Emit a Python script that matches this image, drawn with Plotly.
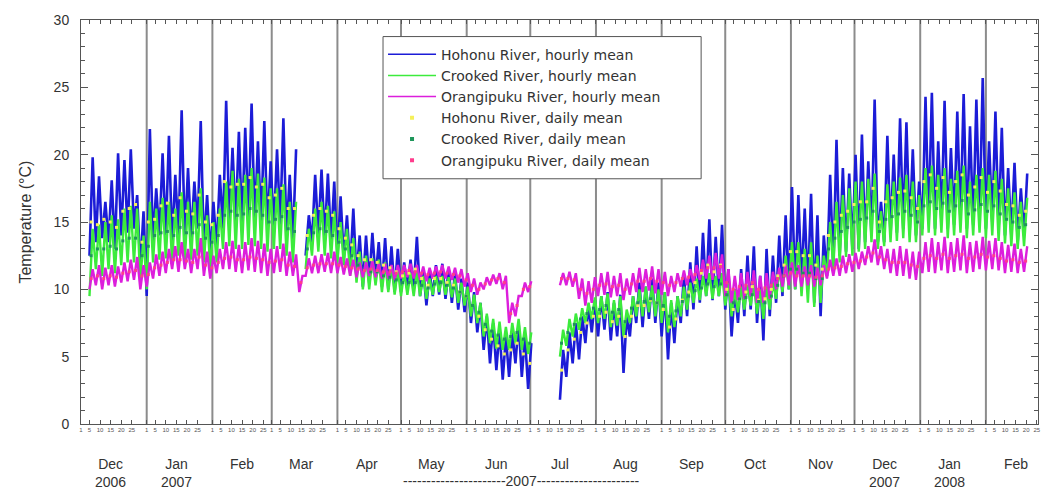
import pandas as pd
import plotly.graph_objects as go

# Sample dates (every 3 days from 5 Dec 2006); each sample holds the low and
# high of the hourly record over that interval plus the daily mean.
sample_start = "2006-12-05"
n_samples = 148

hohonu_low = [
    12.5, 13.5, 13.8, 13.5, 13.0, 14.0, 14.2, 14.5, 11.5, 9.5,
    13.5, 14.0, 14.0, 13.5, 14.0, 13.8, 13.8, 14.5, 13.0, 12.5,
    13.0, 14.5, 15.0, 15.0, 14.8, 15.2, 15.0, 14.8, 14.5, 14.5,
    14.8, 14.0, 13.5, None, 12.5, 13.5, 14.0, 13.8, 13.5, 12.5,
    12.3, 11.5, 11.0, 10.2, 10.5, 10.8, 10.2, 10.0, 9.8, 9.8,
    10.0, 10.0, 9.5, 8.8, 9.5, 9.6, 9.3, 9.0, 8.5, 8.3,
    7.5, 6.8, 5.5, 4.5, 4.0, 3.3, 3.5, 4.5, 3.5, 2.6,
    None, None, None, None, 1.8, 3.5, 4.5, 4.8, 6.0, 6.8,
    6.5, 7.0, 6.2, 6.5, 3.8, 6.5, 7.5, 7.2, 7.8, 7.5,
    6.5, 4.8, 6.0, 7.5, 8.0, 8.5, 9.0, 9.5, 9.2, 9.5,
    8.5, 6.5, 7.5, 8.0, 8.5, 7.5, 6.2, 8.0, 9.0, 9.5,
    10.0, 10.0, 10.5, 10.0, 9.0, 8.0, 11.0, 11.5, 12.5, 12.8,
    13.0, 13.0, 13.5, 14.0, 13.5, 13.5, 14.0, 14.2, 14.5, 14.2,
    14.0, 14.5, 15.0, 14.5, 15.0, 14.5, 14.8, 15.0, 14.5, 14.8,
    15.0, 14.5, 15.0, 14.5, 14.0, 14.0, 13.5, 14.0,
]
hohonu_high = [
    19.8, 18.4, 16.5, 18.1, 20.1, 19.6, 20.4, 17.0, 15.8, 21.9,
    17.5, 20.1, 21.4, 18.5, 23.3, 19.0, 18.0, 22.5, 17.0, 16.5,
    18.5, 24.0, 20.5, 21.7, 22.0, 23.8, 21.0, 22.5, 19.5, 20.4,
    22.7, 18.5, 20.4, None, 15.5, 18.5, 18.9, 18.6, 18.0, 16.9,
    15.5, 16.0, 14.0, 14.0, 14.2, 13.5, 13.8, 13.2, 13.0, 12.0,
    12.2, 13.9, 11.5, 11.3, 11.8, 11.9, 11.5, 11.2, 10.8, 10.5,
    9.8, 9.0, 8.0, 7.5, 7.0, 6.5, 6.8, 7.5, 6.5, 6.0,
    None, None, None, None, 5.5, 6.8, 7.5, 8.0, 8.8, 9.2,
    9.5, 9.8, 9.0, 9.6, 8.0, 9.5, 10.5, 10.2, 10.8, 10.5,
    9.8, 9.0, 9.5, 11.0, 12.0, 13.2, 14.2, 15.2, 13.9, 14.8,
    11.5, 10.0, 11.5, 12.5, 13.2, 11.0, 13.0, 12.5, 14.0, 15.5,
    17.6, 17.0, 16.0, 17.1, 15.5, 14.0, 18.5, 21.1, 19.0, 18.6,
    20.0, 21.5, 19.5, 24.1, 16.5, 21.4, 20.0, 22.7, 22.4, 20.4,
    18.0, 24.3, 24.6, 21.0, 24.0, 20.5, 23.2, 24.5, 22.1, 24.1,
    25.7, 21.0, 23.2, 22.0, 19.0, 19.4, 17.5, 18.6,
]
hohonu_daily = [
    15.0, 14.8, 15.2, 15.0, 14.6, 15.8, 16.0, 16.3, 13.5, 15.0,
    15.2, 16.2, 16.4, 15.5, 16.8, 15.8, 15.6, 17.0, 15.0, 14.8,
    15.5, 18.0, 17.6, 17.8, 17.8, 18.3, 17.6, 17.8, 16.8, 17.0,
    17.5, 16.0, 16.0, None, 14.0, 15.5, 16.0, 15.8, 15.5, 14.5,
    13.8, 13.3, 12.5, 12.2, 12.2, 12.0, 11.8, 11.6, 11.3, 11.0,
    11.2, 11.5, 10.8, 10.3, 10.8, 10.8, 10.5, 10.3, 9.8, 9.5,
    8.8, 8.0, 7.0, 6.3, 5.8, 5.2, 5.5, 6.0, 5.2, 4.5,
    None, None, None, None, 4.0, 5.5, 6.3, 6.8, 7.5, 8.0,
    8.0, 8.3, 7.6, 8.0, 6.5, 8.0, 8.8, 8.8, 9.2, 9.0,
    8.5, 7.2, 7.8, 9.2, 9.8, 10.5, 11.2, 11.8, 11.3, 11.8,
    10.0, 8.5, 9.3, 9.8, 10.2, 9.2, 9.3, 10.0, 11.0, 11.8,
    12.8, 12.8, 12.5, 12.5, 11.8, 11.5, 14.0, 15.0, 15.5, 15.8,
    16.3, 16.5, 16.5, 17.5, 15.0, 16.5, 16.8, 17.2, 17.3, 16.8,
    16.0, 18.0, 18.5, 17.5, 18.3, 17.2, 18.0, 18.5, 17.0, 17.6,
    18.3, 17.2, 18.0, 17.3, 16.3, 16.2, 15.5, 15.8,
]

crooked_low = [
    9.5, 11.5, 11.0, 11.5, 11.2, 11.8, 12.0, 12.0, 10.5, 10.0,
    12.0, 12.2, 12.3, 12.0, 12.5, 12.2, 12.2, 12.5, 12.0, 11.5,
    12.0, 13.0, 13.2, 13.0, 13.0, 13.3, 13.2, 13.0, 12.8, 13.0,
    13.0, 12.5, 12.0, None, 11.5, 12.5, 12.8, 12.5, 12.3, 12.0,
    11.8, 11.0, 10.5, 10.0, 10.0, 10.3, 9.8, 9.8, 9.6, 9.5,
    9.6, 9.5, 9.5, 9.3, 9.6, 9.8, 9.6, 9.4, 9.0, 8.8,
    8.0, 7.5, 6.5, 6.0, 5.6, 5.5, 5.5, 6.0, 5.5, 5.2,
    None, None, None, None, 5.0, 5.8, 6.5, 7.0, 7.5, 7.8,
    7.5, 7.8, 7.2, 7.3, 6.5, 7.5, 8.0, 8.0, 8.3, 8.0,
    7.5, 6.8, 7.2, 8.0, 8.5, 9.0, 9.2, 9.5, 9.3, 9.5,
    8.8, 8.0, 8.3, 8.5, 8.8, 8.2, 7.8, 8.5, 9.3, 9.8,
    10.0, 10.0, 9.5, 9.0, 8.7, 9.0, 11.0, 11.5, 12.0, 12.4,
    12.5, 12.8, 13.0, 13.5, 13.0, 13.2, 13.5, 13.6, 13.8, 13.5,
    13.5, 14.0, 14.2, 14.0, 14.2, 13.8, 14.0, 14.2, 13.8, 14.0,
    14.2, 13.8, 14.0, 13.6, 13.4, 13.2, 13.0, 13.2,
]
crooked_high = [
    14.5, 14.8, 15.0, 15.5, 15.2, 16.0, 16.2, 16.0, 14.0, 16.5,
    16.0, 16.8, 16.5, 16.0, 17.2, 16.5, 16.5, 17.5, 15.5, 15.0,
    16.0, 18.0, 18.8, 18.2, 18.5, 19.0, 18.6, 18.3, 17.5, 17.5,
    17.8, 16.5, 16.5, None, 14.5, 16.0, 16.5, 16.2, 15.8, 15.0,
    14.5, 13.8, 12.8, 12.5, 12.3, 12.2, 12.0, 11.8, 11.5, 11.3,
    11.2, 11.4, 11.0, 10.8, 11.0, 11.0, 10.9, 10.8, 10.5, 10.2,
    9.6, 9.0, 8.2, 7.8, 7.6, 7.2, 7.5, 7.8, 7.2, 6.8,
    None, None, None, None, 7.0, 7.8, 8.2, 8.6, 9.0, 9.4,
    9.5, 9.7, 9.2, 9.5, 8.5, 9.5, 10.0, 10.2, 10.3, 10.0,
    9.8, 9.2, 9.5, 10.2, 10.5, 10.8, 11.0, 11.2, 11.0, 11.2,
    10.5, 10.0, 10.2, 10.3, 10.5, 10.0, 10.2, 10.5, 11.5, 12.5,
    13.5, 13.5, 13.0, 13.5, 12.5, 12.5, 15.0, 16.5, 17.0, 17.5,
    18.0, 18.0, 18.2, 18.6, 15.8, 17.8, 18.0, 18.3, 18.5, 18.0,
    17.0, 19.0, 19.2, 18.5, 19.0, 18.2, 18.8, 19.2, 18.0, 18.5,
    19.0, 18.5, 18.8, 18.2, 17.5, 17.2, 16.5, 16.8,
]
crooked_daily = [
    12.5, 13.0, 13.0, 13.2, 13.0, 13.6, 13.8, 13.8, 12.5, 13.2,
    14.0, 14.2, 14.3, 14.0, 14.6, 14.2, 14.2, 14.8, 13.8, 13.5,
    14.0, 15.5, 15.8, 15.5, 15.6, 16.0, 15.8, 15.5, 15.0, 15.2,
    15.4, 14.5, 14.3, None, 13.0, 14.2, 14.5, 14.3, 14.0, 13.5,
    13.0, 12.5, 11.8, 11.4, 11.3, 11.3, 11.0, 10.9, 10.7, 10.5,
    10.5, 10.5, 10.3, 10.1, 10.4, 10.5, 10.3, 10.1, 9.8, 9.5,
    8.8, 8.3, 7.4, 6.9, 6.6, 6.3, 6.5, 6.8, 6.3, 6.0,
    None, None, None, None, 6.0, 6.8, 7.4, 7.8, 8.2, 8.6,
    8.5, 8.8, 8.3, 8.5, 7.6, 8.6, 9.0, 9.1, 9.3, 9.0,
    8.8, 8.0, 8.4, 9.1, 9.5, 9.9, 10.1, 10.4, 10.2, 10.4,
    9.6, 9.0, 9.3, 9.4, 9.6, 9.1, 9.0, 9.5, 10.3, 11.0,
    11.5, 11.5, 11.2, 11.2, 10.8, 10.8, 13.0, 13.8, 14.3, 14.6,
    15.0, 15.2, 15.3, 15.8, 14.3, 15.2, 15.4, 15.6, 15.8, 15.5,
    15.0, 16.2, 16.5, 16.0, 16.4, 15.8, 16.2, 16.6, 15.6, 15.9,
    16.3, 15.8, 16.2, 15.6, 15.2, 15.0, 14.6, 14.8,
]

orangipuku_low = [
    10.0, 10.3, 10.0, 10.3, 10.2, 10.5, 10.6, 10.7, 10.0, 10.2,
    10.8, 11.0, 11.2, 11.5, 11.3, 11.5, 11.2, 11.5, 11.0, 10.8,
    11.2, 11.5, 11.5, 11.3, 11.2, 11.4, 11.3, 11.2, 11.0, 11.2,
    11.3, 11.0, 11.0, 9.8, 11.0, 11.2, 11.2, 11.3, 11.2, 11.2,
    11.1, 11.0, 10.9, 10.9, 11.0, 10.9, 10.8, 10.8, 10.7, 10.8,
    10.9, 10.8, 10.7, 10.6, 10.8, 10.9, 10.8, 10.7, 10.5, 10.2,
    9.8, 9.6, 10.0, 10.3, 10.4, 10.0, 7.5, 8.0, 9.5, 9.8,
    None, None, None, None, 10.3, 10.3, 10.2, 9.3, 8.8, 9.0,
    9.5, 9.6, 9.4, 9.5, 9.2, 9.6, 9.8, 9.8, 9.9, 9.7,
    9.6, 9.5, 9.8, 10.2, 10.3, 10.5, 10.7, 10.8, 10.7, 10.8,
    9.5, 9.0, 9.2, 9.3, 9.5, 9.0, 9.0, 9.3, 10.0, 10.2,
    10.3, 10.2, 10.2, 10.3, 10.2, 10.3, 10.8, 11.0, 11.0, 11.2,
    11.3, 11.5, 11.8, 12.0, 11.8, 11.5, 11.2, 11.0, 11.0, 10.8,
    10.7, 11.2, 11.3, 11.2, 11.4, 11.2, 11.3, 11.4, 11.2, 11.3,
    11.5, 11.4, 11.5, 11.4, 11.2, 11.3, 11.2, 11.3,
]
orangipuku_high = [
    11.5, 11.8, 11.6, 11.8, 11.7, 12.0, 12.2, 12.4, 11.8, 12.0,
    12.6, 12.8, 13.0, 13.2, 13.5, 13.0, 13.0, 13.8, 12.8, 12.5,
    13.0, 13.5, 13.6, 13.3, 13.5, 13.8, 13.6, 13.4, 13.0, 13.2,
    13.4, 12.8, 12.6, 11.0, 12.3, 12.5, 12.6, 12.7, 12.8, 12.4,
    12.3, 12.2, 12.0, 12.0, 12.1, 11.9, 11.9, 11.8, 11.8, 11.8,
    11.9, 11.8, 11.7, 11.6, 11.7, 11.8, 11.7, 11.6, 11.5, 11.2,
    10.8, 10.5, 10.9, 11.1, 11.2, 11.0, 9.0, 9.5, 10.5, 10.6,
    None, None, None, None, 11.2, 11.3, 11.2, 10.8, 10.6, 10.9,
    11.2, 11.3, 11.0, 11.2, 10.8, 11.2, 11.6, 11.5, 11.7, 11.5,
    11.3, 11.0, 11.2, 11.4, 11.5, 11.8, 12.2, 12.5, 12.7, 12.6,
    11.5, 11.0, 11.2, 11.3, 11.4, 11.0, 11.2, 11.3, 11.6, 11.8,
    12.0, 11.8, 11.7, 11.8, 11.6, 11.8, 12.2, 12.3, 12.5, 12.6,
    12.7, 12.8, 13.2, 13.7, 13.2, 13.0, 13.0, 13.2, 13.0, 12.8,
    12.8, 13.5, 13.8, 13.5, 13.9, 13.5, 13.8, 14.0, 13.5, 13.6,
    13.9, 13.6, 13.8, 13.5, 13.3, 13.4, 13.0, 13.2,
]
orangipuku_daily = [
    10.8, 11.0, 10.8, 11.0, 10.9, 11.2, 11.3, 11.4, 11.0, 11.1,
    11.6, 11.8, 12.0, 12.2, 12.2, 12.1, 12.0, 12.4, 11.8, 11.6,
    12.0, 12.3, 12.4, 12.2, 12.2, 12.4, 12.3, 12.2, 12.0, 12.1,
    12.2, 11.8, 11.7, 10.5, 11.6, 11.8, 11.9, 11.9, 11.9, 11.8,
    11.7, 11.6, 11.5, 11.4, 11.5, 11.4, 11.3, 11.3, 11.2, 11.3,
    11.4, 11.3, 11.2, 11.1, 11.2, 11.3, 11.2, 11.1, 11.0, 10.7,
    10.3, 10.0, 10.4, 10.7, 10.8, 10.5, 8.2, 8.8, 10.0, 10.2,
    None, None, None, None, 10.8, 10.8, 10.7, 10.0, 9.7, 10.0,
    10.3, 10.4, 10.2, 10.3, 10.0, 10.4, 10.6, 10.6, 10.8, 10.6,
    10.5, 10.3, 10.5, 10.8, 10.9, 11.1, 11.4, 11.6, 11.6, 11.7,
    10.5, 10.0, 10.2, 10.3, 10.5, 10.0, 10.1, 10.3, 10.8, 11.0,
    11.2, 11.0, 11.0, 11.0, 10.9, 11.0, 11.5, 11.6, 11.7, 11.9,
    12.0, 12.1, 12.4, 12.7, 12.4, 12.2, 12.0, 12.0, 12.0, 11.8,
    11.7, 12.3, 12.5, 12.3, 12.6, 12.3, 12.5, 12.6, 12.3, 12.4,
    12.6, 12.4, 12.5, 12.3, 12.1, 12.2, 12.0, 12.1,
]

month_labels = ["Dec<br>2006", "Jan<br>2007", "Feb", "Mar", "Apr", "May", "Jun",
                "Jul", "Aug", "Sep", "Oct", "Nov", "Dec<br>2007", "Jan<br>2008", "Feb"]
day_marks = [1, 5, 10, 15, 20, 25]

dates = pd.date_range(sample_start, periods=n_samples, freq="3D")
half_step = pd.Timedelta(hours=36)


def zigzag(lows, highs):
    """Hourly trace: swing from each interval's low up to its high."""
    xs, ys = [], []
    for t, lo, hi in zip(dates, lows, highs):
        if lo is None or hi is None:
            xs.append(t)
            ys.append(None)
            continue
        xs += [t, t + half_step]
        ys += [lo, hi]
    return xs, ys


FONT = "Liberation Sans, Arial, sans-serif"
LEGEND_FONT = "DejaVu Sans, Verdana, sans-serif"
fig = go.Figure()

hourly = [
    ("Hohonu River, hourly mean", hohonu_low, hohonu_high, "rgb(28,28,215)", 2.6),
    ("Crooked River, hourly mean", crooked_low, crooked_high, "rgb(60,235,60)", 2.4),
    ("Orangipuku River, hourly mean", orangipuku_low, orangipuku_high, "rgb(220,30,220)", 2.4),
]
for name, lo, hi, col, w in hourly:
    xs, ys = zigzag(lo, hi)
    fig.add_trace(go.Scatter(x=xs, y=ys, mode="lines", name=name, legendgroup=name,
                             showlegend=False,
                             line=dict(color=col, width=w), connectgaps=False))

daily = [
    ("Hohonu River, daily mean", hohonu_daily, "rgb(245,240,90)"),
    ("Crooked River, daily mean", crooked_daily, "rgb(30,150,90)"),
    ("Orangipuku River, daily mean", orangipuku_daily, "rgb(255,60,140)"),
]
mean_dates = dates + pd.Timedelta(hours=18)
for name, vals, col in daily:
    fig.add_trace(go.Scatter(x=mean_dates, y=vals, mode="markers", name=name,
                             legendgroup=name, showlegend=False,
                             marker=dict(color=col, size=3, symbol="square")))

# Legend keys: thin line samples for the hourly traces, small dots for the means
for name, _, _, col, _ in hourly:
    fig.add_trace(go.Scatter(x=[None], y=[None], mode="lines", name=name,
                             legendgroup=name, line=dict(color=col, width=1.5)))
for name, _, col in daily:
    fig.add_trace(go.Scatter(x=[None], y=[None], mode="markers", name=name,
                             legendgroup=name,
                             marker=dict(color=col, size=4, symbol="square")))

# Month separators
months = pd.date_range("2006-12-01", "2008-02-01", freq="MS")
for m in months[1:]:
    fig.add_shape(type="line", xref="x", yref="paper", x0=m, x1=m, y0=0, y1=1,
                  line=dict(color="rgb(140,140,140)", width=2), layer="below")

# Legend frame (the legend itself is drawn borderless on top of it)
fig.add_shape(type="rect", xref="paper", yref="paper",
              x0=0.3156, x1=0.648, y0=0.607, y1=0.959,
              fillcolor="white", line=dict(color="#555", width=1), layer="above")

# Day-of-month ticks
x_end = pd.Timestamp("2008-02-25 14:00")
tickvals, ticktext = [], []
for m in months:
    for d in day_marks:
        t = m + pd.Timedelta(days=d - 1)
        if t <= x_end:
            tickvals.append(t)
            ticktext.append(str(d))

# Month / year labels
for m, lab in zip(months, month_labels):
    fig.add_annotation(x=m + pd.Timedelta(days=14), y=-0.075, xref="x", yref="paper",
                       text=lab, showarrow=False, yanchor="top",
                       font=dict(family=FONT, size=14, color="#333"))
fig.add_annotation(x=pd.Timestamp("2007-06-27"), y=-0.117, xref="x", yref="paper",
                   text="----------------------2007----------------------",
                   showarrow=False, yanchor="top",
                   font=dict(family=FONT, size=14, color="#333"))
fig.add_annotation(x=-0.059, y=0.5, xref="paper", yref="paper", xanchor="center",
                   text="Temperature (°C)", textangle=-90, showarrow=False,
                   font=dict(family=FONT, size=16, color="#333"))

fig.update_layout(
    width=1049, height=495,
    margin=dict(l=81, r=8, t=20, b=71),
    paper_bgcolor="white", plot_bgcolor="white",
    font=dict(family=FONT, color="#333"),
    showlegend=True,
    legend=dict(x=0.3156, y=0.954, xanchor="left", yanchor="top",
                bgcolor="rgba(0,0,0,0)", borderwidth=0,
                font=dict(family=LEGEND_FONT, size=14, color="#333"),
                itemwidth=48, tracegroupgap=0),
    xaxis=dict(range=[pd.Timestamp("2006-12-01"), x_end],
               tickmode="array", tickvals=tickvals, ticktext=ticktext,
               tickfont=dict(size=6, color="#555"), tickangle=0,
               ticks="inside", ticklen=4, tickcolor="#555",
               showgrid=False, zeroline=False,
               showline=True, linecolor="#555", linewidth=1, mirror="ticks"),
    yaxis=dict(range=[0, 30], tickvals=[0, 5, 10, 15, 20, 25, 30],
               ticks="inside", ticklen=7, tickcolor="#555",
               minor=dict(dtick=1, ticks="inside", ticklen=4, tickcolor="#555"),
               tickfont=dict(family=FONT, size=14, color="#333"),
               ticklabelstandoff=8,
               showgrid=False, zeroline=False,
               showline=True, linecolor="#555", linewidth=1, mirror="ticks"),
)

fig.write_html("out.html")
